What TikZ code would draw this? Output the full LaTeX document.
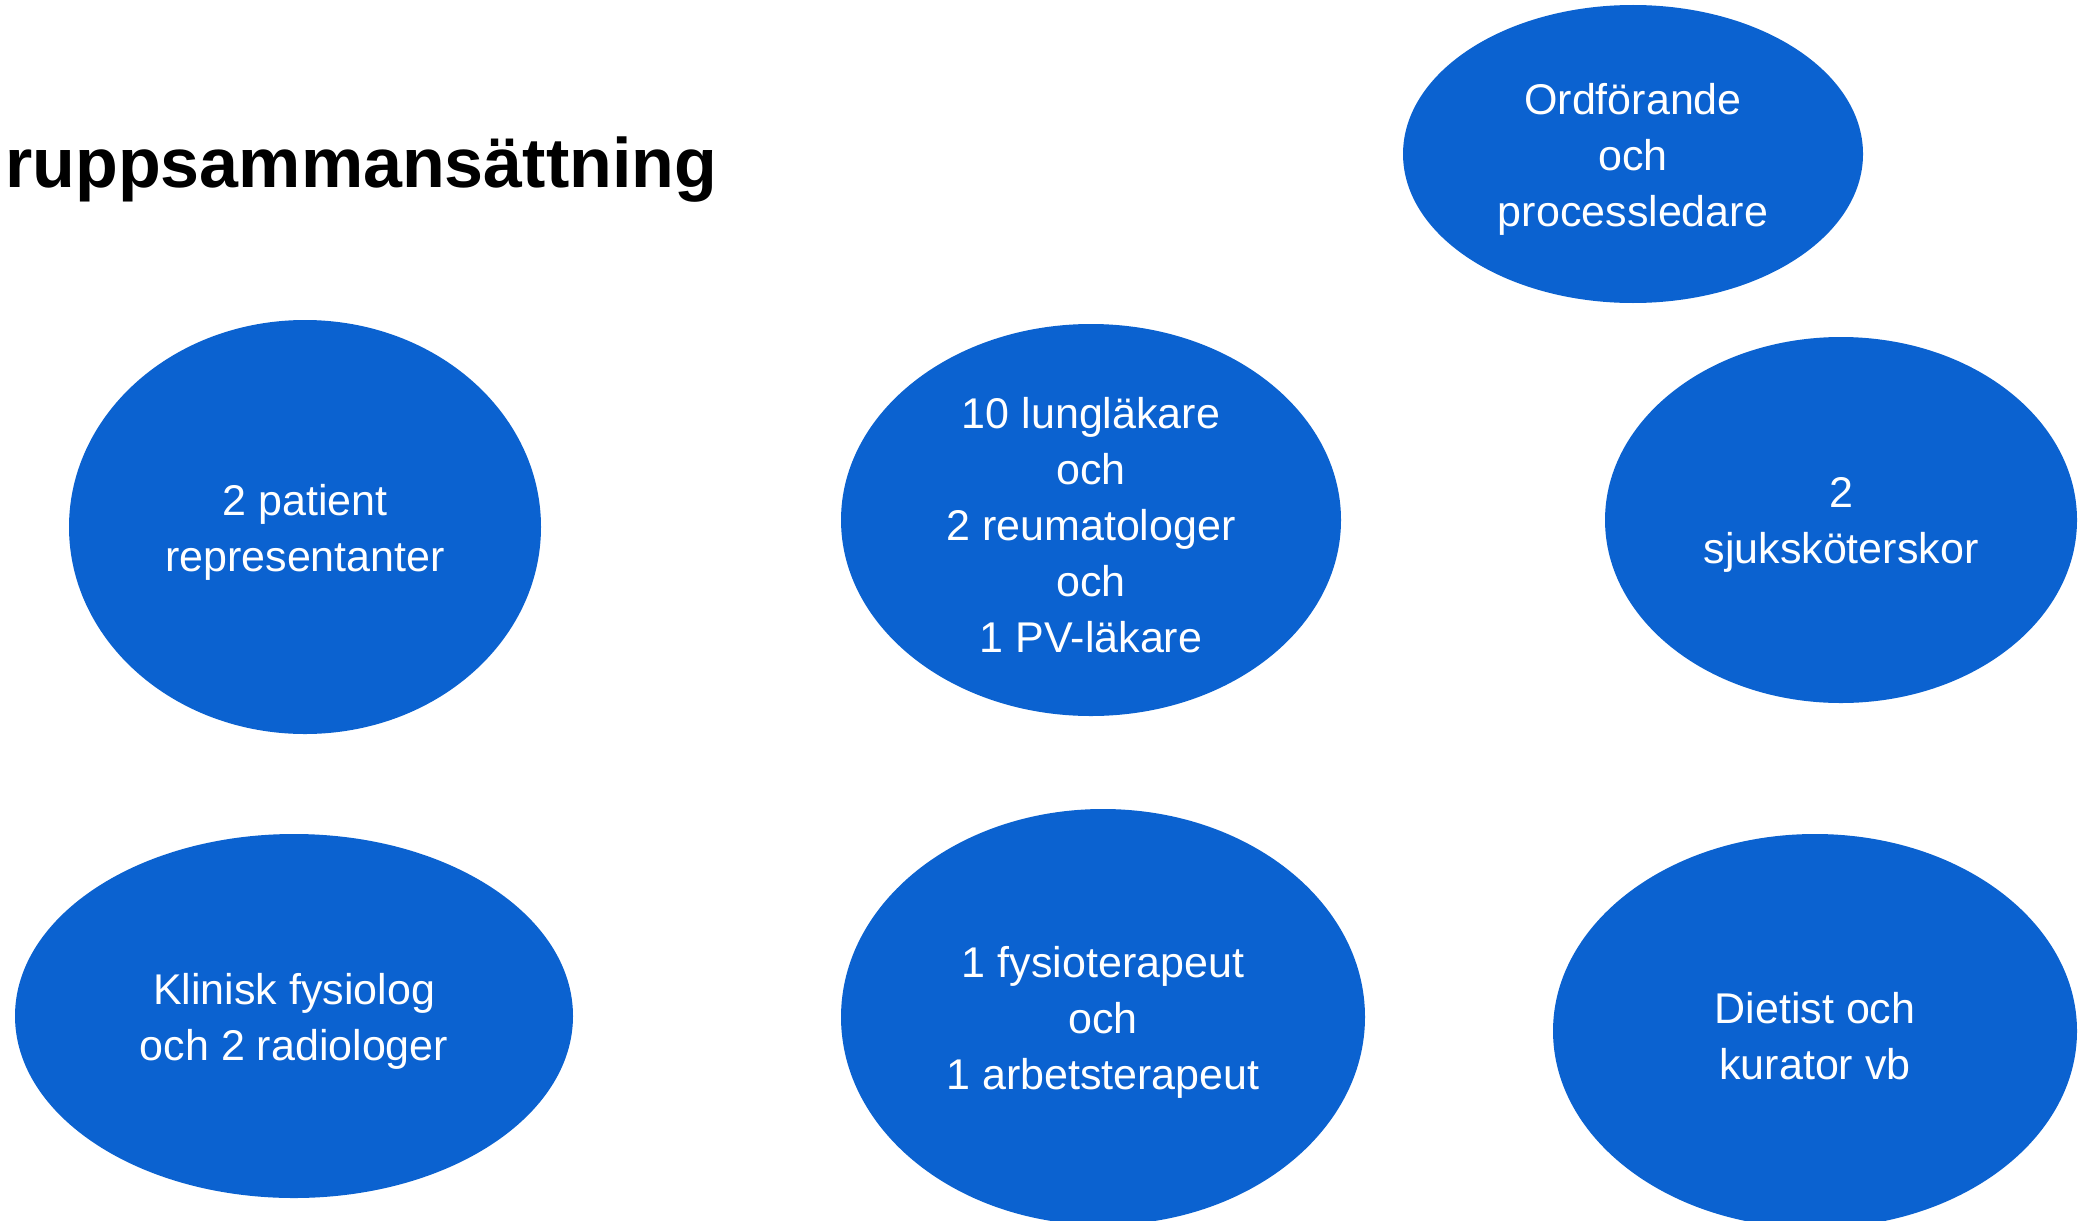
\documentclass[tikz,border=0pt]{standalone}
\usepackage{fontspec}
\setmainfont{Liberation Sans}
\usetikzlibrary{shapes.geometric}
\definecolor{groupblue}{RGB}{11,98,208}
\tikzset{
  member/.style={ellipse, fill=groupblue, draw=none, inner sep=0pt},
  membertext/.style={text=white, align=center, inner sep=0pt, yshift=-2.5pt,
    font=\fontsize{21.5pt}{28pt}\selectfont},
}
\begin{document}
\begin{tikzpicture}[x=0.5pt, y=-0.5pt]
\useasboundingbox (0,0) rectangle (2080,1220);
\fill[white] (0,0) rectangle (2080,1220);

% heading
\node[anchor=base west, inner sep=0pt, font=\fontsize{35pt}{40pt}\selectfont\bfseries]
  (title) at (5,187) {ruppsammansättning};

% members of the group
\node[member, minimum width=230pt, minimum height=149pt,
  label={[membertext]center:Ordförande\\och\\processledare}] (chair) at (1633,154) {};
\node[member, minimum width=236pt, minimum height=207pt,
  label={[membertext]center:2 patient\\representanter}] (patients) at (305,527) {};
\node[member, minimum width=250pt, minimum height=196pt,
  label={[membertext]center:10 lungläkare\\och\\2 reumatologer\\och\\1 PV-läkare}] (doctors) at (1091,520) {};
\node[member, minimum width=236pt, minimum height=183pt,
  label={[membertext]center:2\\sjuksköterskor}] (nurses) at (1841,520) {};
\node[member, minimum width=279pt, minimum height=182pt,
  label={[membertext]center:Klinisk fysiolog\\och 2 radiologer}] (imaging) at (294,1016) {};
\node[member, minimum width=262pt, minimum height=208pt,
  label={[membertext]center:1 fysioterapeut\\och\\1 arbetsterapeut}] (therapists) at (1103,1017) {};
\node[member, minimum width=262pt, minimum height=197pt,
  label={[membertext]center:Dietist och\\kurator vb}] (dietist) at (1815,1031) {};
\end{tikzpicture}
\end{document}
